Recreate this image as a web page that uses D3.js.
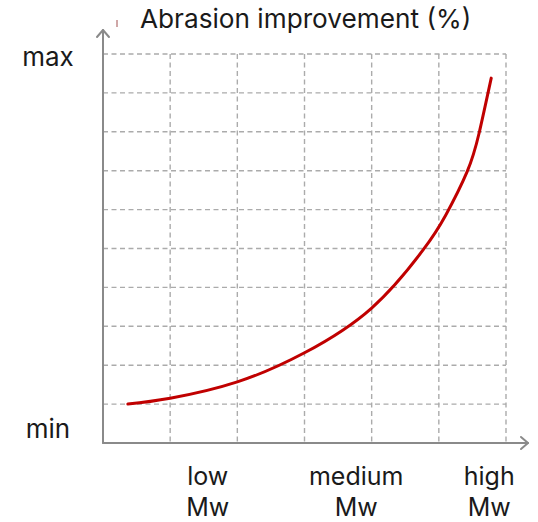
<!DOCTYPE html>
<html><head><meta charset="utf-8">
<script src="https://cdn.jsdelivr.net/npm/d3@7"></script>
<style>
html,body{margin:0;padding:0;background:#fff;}
svg{display:block;}
text{font-family:Inter,"Open Sans",sans-serif;fill:#1a1a1a;}
</style></head>
<body><svg id="c" width="538" height="522"></svg>
<script>
// Data (x in grid units 0..6, y in grid units 0..10)
const curveX = [0.37, 1.0, 2.0, 3.0, 4.0, 4.76, 5.1, 5.42, 5.60, 5.78];
const curveY = [1.00, 1.15, 1.57, 2.32, 3.47, 4.95, 5.85, 6.97, 7.97, 9.38];
const xCategoryLines = [["low", "Mw"], ["medium", "Mw"], ["high", "Mw"]];
const xCategoryPos = [1.56, 3.77, 5.75];
const yLabels = ["min", "max"];
const yLabelPos = [0, 10];
const title = "Abrasion improvement (%)";

const svg = d3.select("#c");
const x = d3.scaleLinear().domain([0, 6]).range([103, 506]);
const y = d3.scaleLinear().domain([0, 10]).range([443, 54]);

const grid = svg.append("g").attr("stroke", "#ababab").attr("stroke-width", 1.4)
  .attr("stroke-dasharray", "5,3.5").attr("fill", "none");
grid.selectAll(".h").data(y.ticks(10).filter(d => d > 0)).join("line")
  .attr("x1", x(0)).attr("x2", x(6)).attr("y1", d => y(d)).attr("y2", d => y(d));
grid.selectAll(".v").data(x.ticks(6).filter(d => d > 0)).join("line")
  .attr("x1", d => x(d)).attr("x2", d => x(d)).attr("y1", y(10)).attr("y2", y(0));

// axes with arrows
const ax = svg.append("g").attr("stroke", "#8a8a8a").attr("stroke-width", 2).attr("fill", "none")
  .attr("stroke-linecap", "round").attr("stroke-linejoin", "round");
ax.append("line").attr("x1", x(0)).attr("x2", x(0)).attr("y1", y(0)).attr("y2", 30);
ax.append("path").attr("d", `M${x(0)-6},37 L${x(0)},30 L${x(0)+6},37`);
ax.append("line").attr("x1", x(0)).attr("x2", 528).attr("y1", y(0)).attr("y2", y(0));
ax.append("path").attr("d", `M521,${y(0)-6} L528,${y(0)} L521,${y(0)+6}`);

// curve
const pts = curveX.map((v, i) => [v, curveY[i]]);
svg.append("path").datum(pts)
  .attr("d", d3.line().x(d => x(d[0])).y(d => y(d[1])).curve(d3.curveNatural))
  .attr("fill", "none").attr("stroke", "#c00000").attr("stroke-width", 3).attr("stroke-linecap", "round");

// small mark near title
svg.append("line").attr("x1", 117).attr("x2", 117).attr("y1", 20).attr("y2", 27)
  .attr("stroke", "#a05050").attr("stroke-width", 1);

// title
svg.append("text").attr("x", 140).attr("y", 28).attr("font-size", 26.2).text(title);

// y labels
svg.selectAll(".yl").data(yLabels).join("text")
  .attr("x", 48).attr("y", (d, i) => y(yLabelPos[i]) + (i === 1 ? 12 : -5))
  .attr("text-anchor", "middle").attr("font-size", 26).text(d => d);

// x labels
xCategoryLines.forEach((lines, i) => {
  lines.forEach((ln, j) => {
    svg.append("text").attr("text-anchor", "middle").attr("font-size", 25)
      .attr("x", x(xCategoryPos[i])).attr("y", 485 + j * 30.5).text(ln);
  });
});
</script></body></html>
